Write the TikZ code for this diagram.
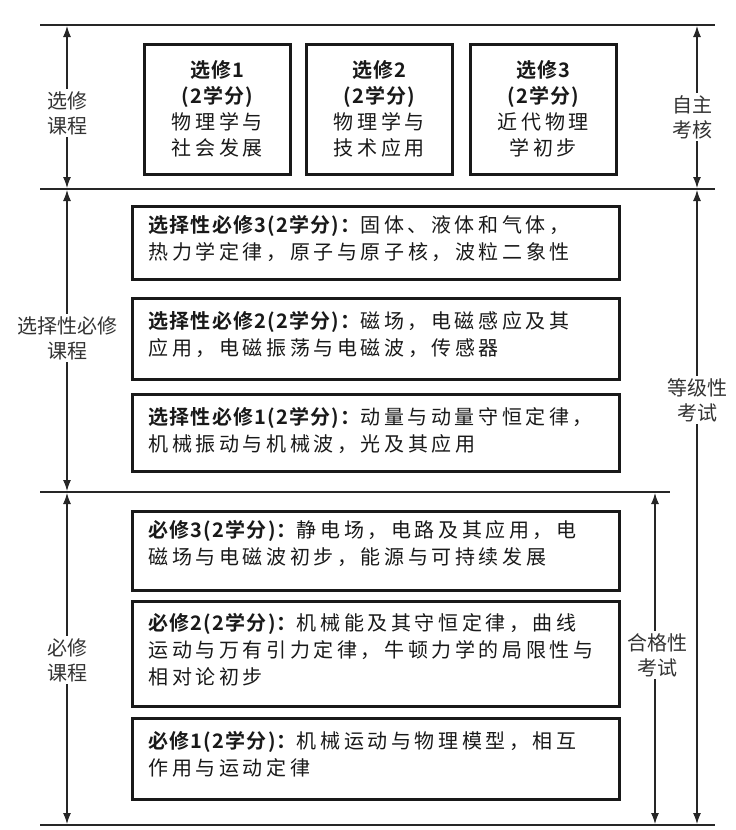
\documentclass[tikz,border=0pt]{standalone}
\usepackage{fontspec}
\setmainfont{Noto Sans CJK SC}
\newfontfamily\cjkb[LetterSpace=6]{Noto Sans CJK SC Bold}
\newfontfamily\cjks[LetterSpace=18]{Noto Sans CJK SC}
\usetikzlibrary{arrows.meta}
\begin{document}
\begin{tikzpicture}[x=1pt,y=-1pt,
  hline/.style={line width=2pt,draw=black!85},
  dim/.style={line width=1.1pt,draw=black!85,{Latex[length=11pt,width=8pt]}-{Latex[length=11pt,width=8pt]}},
  bx/.style={draw=black!90,line width=2.6pt,anchor=north west},
  lab/.style={fill=white,font=\fontsize{20}{25}\selectfont,text=black!80,align=center,inner sep=2pt},
  tbox/.style={align=center,font=\fontsize{20}{26}\selectfont,text=black!90},
  btxt/.style={align=left,anchor=north west,font=\fontsize{20}{27}\selectfont\cjks,text=black!90}]
\useasboundingbox (0,0) rectangle (736,830);
% horizontal lines
\coordinate (l1a) at (40,25); \coordinate (l1b) at (715,25);
\coordinate (l2a) at (40,189); \coordinate (l2b) at (715,189);
\coordinate (l3a) at (40,492); \coordinate (l3b) at (670,492);
\coordinate (l4a) at (40,825); \coordinate (l4b) at (715,825);
\draw[hline] (l1a)--(l1b); \draw[hline] (l2a)--(l2b);
\draw[hline] (l3a)--(l3b); \draw[hline] (l4a)--(l4b);
% left arrows
\coordinate (a1) at (67,26); \coordinate (a2) at (67,188);
\coordinate (a3) at (67,190); \coordinate (a4) at (67,491);
\coordinate (a5) at (67,493); \coordinate (a6) at (67,824);
\draw[dim] (a1)--(a2); \draw[dim] (a3)--(a4); \draw[dim] (a5)--(a6);
\node[lab] (L1) at (67,113) {选修\\课程};
\node[lab] (L2) at (67,338) {选择性必修\\课程};
\node[lab] (L3) at (67,660) {必修\\课程};
% right arrows
\coordinate (r1) at (697,26); \coordinate (r2) at (697,188);
\coordinate (r3) at (697,190); \coordinate (r4) at (697,824);
\coordinate (r5) at (655,493); \coordinate (r6) at (655,824);
\draw[dim] (r1)--(r2); \draw[dim] (r3)--(r4); \draw[dim] (r5)--(r6);
\node[lab] (R1) at (692,117) {自主\\考核};
\node[lab] (R2) at (697,400) {等级性\\考试};
\node[lab] (R3) at (657,655) {合格性\\考试};
% top boxes
\node[bx,minimum width=146pt,minimum height=130pt] (t1) at (143,43) {};
\node[bx,minimum width=146pt,minimum height=130pt] (t2) at (305,43) {};
\node[bx,minimum width=146pt,minimum height=130pt] (t3) at (469,43) {};
\node[tbox] at (t1.center) {{\cjkb 选修1}\\{\cjkb (2学分)}\\{\cjks 物理学与}\\{\cjks 社会发展}};
\node[tbox] at (t2.center) {{\cjkb 选修2}\\{\cjkb (2学分)}\\{\cjks 物理学与}\\{\cjks 技术应用}};
\node[tbox] at (t3.center) {{\cjkb 选修3}\\{\cjkb (2学分)}\\{\cjks 近代物理}\\{\cjks 学初步}};
% middle boxes
\node[bx,minimum width=487pt,minimum height=73pt] (m3) at (131,205) {};
\node[bx,minimum width=487pt,minimum height=81pt] (m2) at (131,297) {};
\node[bx,minimum width=487pt,minimum height=77pt] (m1) at (131,393) {};
\node[btxt] at (145,212) {{\cjkb 选择性必修3(2学分)：}固体、液体和气体，\\热力学定律，原子与原子核，波粒二象性};
\node[btxt] at (145,308) {{\cjkb 选择性必修2(2学分)：}磁场，电磁感应及其\\应用，电磁振荡与电磁波，传感器};
\node[btxt] at (145,404) {{\cjkb 选择性必修1(2学分)：}动量与动量守恒定律，\\机械振动与机械波，光及其应用};
% bottom boxes
\node[bx,minimum width=487pt,minimum height=79pt] (b3) at (131,510) {};
\node[bx,minimum width=487pt,minimum height=105pt] (b2) at (131,600) {};
\node[bx,minimum width=487pt,minimum height=81pt] (b1) at (131,717) {};
\node[btxt] at (145,517) {{\cjkb 必修3(2学分)：}静电场，电路及其应用，电\\磁场与电磁波初步，能源与可持续发展};
\node[btxt] at (145,610) {{\cjkb 必修2(2学分)：}机械能及其守恒定律，曲线\\运动与万有引力定律，牛顿力学的局限性与\\相对论初步};
\node[btxt] at (145,728) {{\cjkb 必修1(2学分)：}机械运动与物理模型，相互\\作用与运动定律};
\end{tikzpicture}
\end{document}
